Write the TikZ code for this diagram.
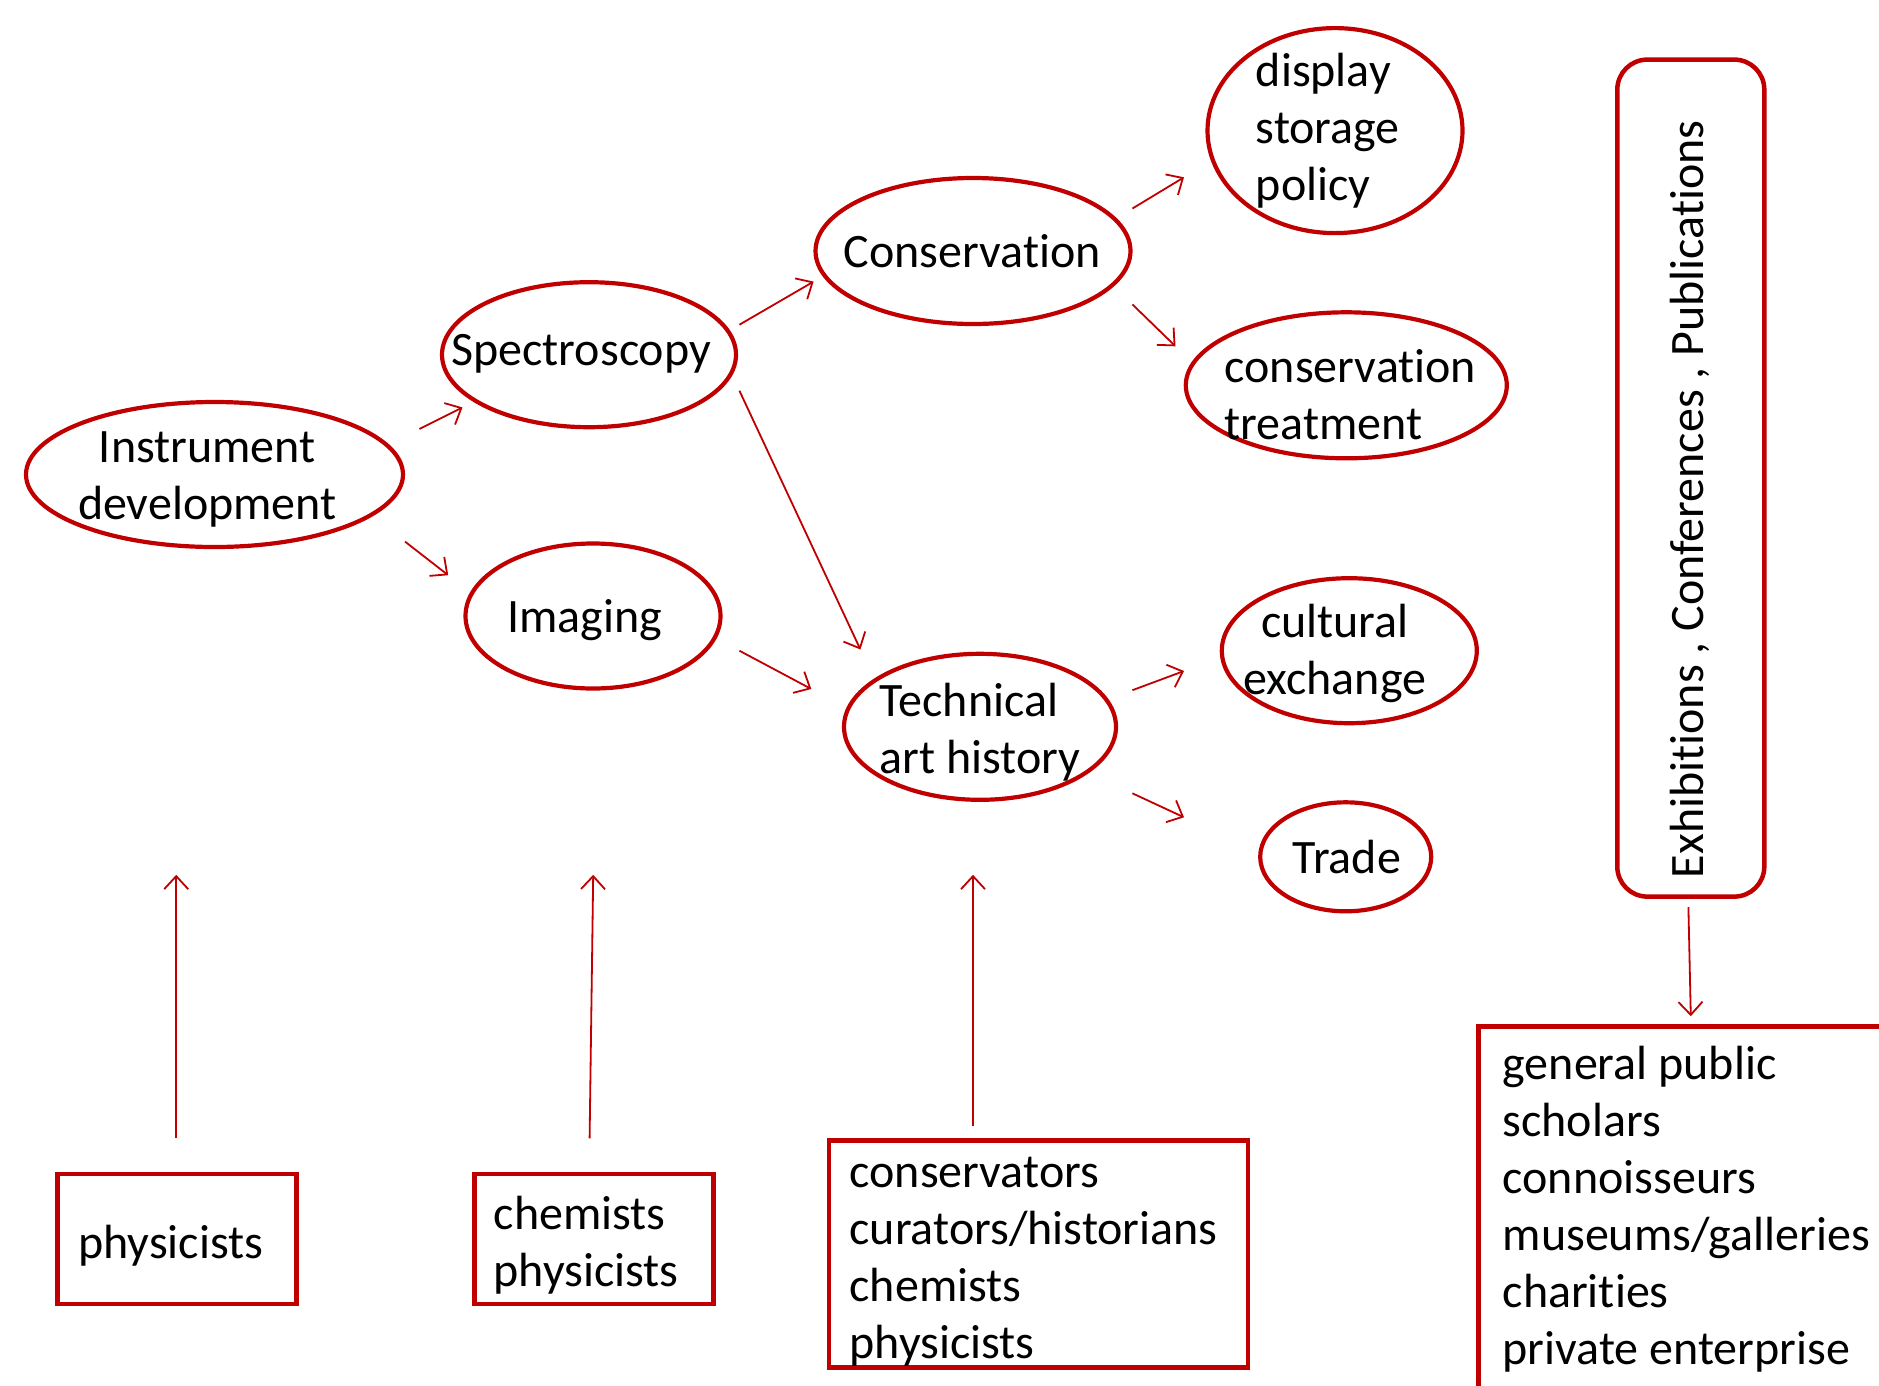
\documentclass[tikz,border=0pt]{standalone}
\usepackage{fontspec}
\setmainfont[Ligatures={NoCommon,NoContextual},Contextuals=NoAlternate]{Carlito}
\usetikzlibrary{arrows.meta,shapes.geometric}
\definecolor{dred}{HTML}{C00000}
\begin{document}
\begin{tikzpicture}[x=1pt,y=-1pt,
  every node/.style={font=\fontsize{48}{57}\selectfont, inner sep=0pt, outer sep=0pt},
  oval/.style={ellipse, draw=dred, line width=4.2pt},
  sqbox/.style={rectangle, draw=dred, line width=4.5pt},
  arr/.style={draw=dred, line width=1.8pt, -{Straight Barb[length=13pt,width=24pt]}},
  txt/.style={align=left},
  ctxt/.style={align=center}]
\useasboundingbox (0,0) rectangle (1879,1385);
\clip (0,0) rectangle (1879,1385);

% ellipses
\node[oval, minimum width=377pt, minimum height=145pt] (instr) at (214.5,474.5) {};
\node[oval, minimum width=294pt, minimum height=145pt] (spec) at (589,354.7) {};
\node[oval, minimum width=255pt, minimum height=145pt] (imag) at (593,616) {};
\node[oval, minimum width=315pt, minimum height=146pt] (cons) at (973,251) {};
\node[oval, minimum width=272pt, minimum height=146pt] (tech) at (980,726.8) {};
\node[oval, minimum width=255pt, minimum height=205pt] (disp) at (1335,130.6) {};
\node[oval, minimum width=321pt, minimum height=146pt] (treat) at (1346.3,385.3) {};
\node[oval, minimum width=255pt, minimum height=145pt] (cult) at (1349.3,650.7) {};
\node[oval, minimum width=171pt, minimum height=109pt] (trade) at (1345.7,856.8) {};

% ellipse texts
\node[ctxt] (tinstr) at (207.3,479.2) {Instrument\\development};
\node (tspec) at (581.2,353.4) {Spectroscopy};
\node (timag) at (584.8,620.6) {Imaging};
\node (tcons) at (972.4,251.5) {Conservation};
\node[txt, anchor=west] (ttech) at (879.5,732.1) {Technical\\art history};
\node[txt, anchor=west] (tdisp) at (1255.8,130.5) {display\\storage\\policy};
\node[txt, anchor=west] (ttreat) at (1224.7,394.7) {conservation\\treatment};
\node[ctxt] (tcult) at (1334.9,653.6) {cultural\\exchange};
\node (ttrade) at (1346.9,857.3) {Trade};

% vertical rounded box
\node[rectangle, rounded corners=30pt, draw=dred, line width=4.5pt,
      minimum width=147pt, minimum height=837pt] (media) at (1690.8,478.1) {};
\node[rotate=90] (tmedia) at (1689.6,499.1) {Exhibitions , Conferences , Publications};

% bottom boxes
\node[sqbox, minimum width=239pt, minimum height=130pt] (phys) at (176.8,1239.1) {};
\node (tphys) at (170.8,1246.1) {physicists};
\node[sqbox, minimum width=239pt, minimum height=130pt] (chem) at (593.8,1239.1) {};
\node[txt, anchor=west] (tchem) at (493.7,1245.5) {chemists\\physicists};
\node[sqbox, minimum width=419pt, minimum height=227pt] (consv) at (1038.3,1254) {};
\node[txt, anchor=west] (tconsv) at (849.6,1261.7) {conservators\\curators/historians\\chemists\\physicists};
\node[sqbox, anchor=north west, minimum width=500pt, minimum height=500pt] (aud) at (1478.3,1026.6) {};
\node[txt, anchor=west] (taud) at (1502.7,1209) {general public\\scholars\\connoisseurs\\museums/galleries\\charities\\private enterprise};

% arrow end points
\coordinate (a1s) at (419.4,429);   \coordinate (a1e) at (462.5,407.4);
\coordinate (a2s) at (405,541.6);   \coordinate (a2e) at (448.2,575.2);
\coordinate (a3s) at (739.4,324.7); \coordinate (a3e) at (813.6,281.6);
\coordinate (a4s) at (739.4,390.7); \coordinate (a4e) at (860.4,649.5);
\coordinate (a5s) at (739.4,650.7); \coordinate (a5e) at (811.3,689);
\coordinate (a6s) at (1132.4,208.5); \coordinate (a6e) at (1184,177.3);
\coordinate (a7s) at (1132.4,304.4); \coordinate (a7e) at (1175.5,346.3);
\coordinate (a8s) at (1132.4,690.2); \coordinate (a8e) at (1184,671);
\coordinate (a9s) at (1132.4,793.3); \coordinate (a9e) at (1184,817.3);
\coordinate (b1s) at (176.2,1138.4); \coordinate (b1e) at (176.2,874.8);
\coordinate (b2s) at (589.6,1138.4); \coordinate (b2e) at (593.2,874.8);
\coordinate (b3s) at (973,1126.4);   \coordinate (b3e) at (973,874.8);
\coordinate (c1s) at (1688.4,907.1); \coordinate (c1e) at (1690.8,1016.2);

\draw[arr] (a1s) -- (a1e);
\draw[arr] (a2s) -- (a2e);
\draw[arr] (a3s) -- (a3e);
\draw[arr] (a4s) -- (a4e);
\draw[arr] (a5s) -- (a5e);
\draw[arr] (a6s) -- (a6e);
\draw[arr] (a7s) -- (a7e);
\draw[arr] (a8s) -- (a8e);
\draw[arr] (a9s) -- (a9e);
\draw[arr] (b1s) -- (b1e);
\draw[arr] (b2s) -- (b2e);
\draw[arr] (b3s) -- (b3e);
\draw[arr] (c1s) -- (c1e);
\end{tikzpicture}
\end{document}
